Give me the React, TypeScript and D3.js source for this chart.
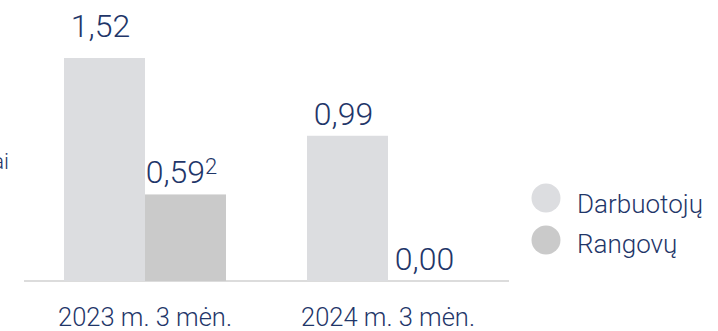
import React from "react";
import * as d3 from "d3";

const periods = ["2023 m. 3 mėn.", "2024 m. 3 mėn."];
const seriesNames = ["Darbuotojų", "Rangovų"];
const darbuotoju = [1.52, 0.99];
const rangovu = [0.59, 0.0];
const valueLabels = [["1,52", "0,99"], ["0,59", "0,00"]];
const labelSup = [["", ""], ["2", ""]];
const colors = ["#dcdde0", "#cacaca"];
const leftText = "ai";

const W = 718;
const H = 331;
const TEXT = "#1f3669";
const FONT = "Roboto, 'Noto Sans', sans-serif";

export default function App() {
  const values = [darbuotoju, rangovu];
  const maxV = d3.max(values.flat()) as number;
  const baseY = 281;
  const y = d3.scaleLinear().domain([0, maxV]).range([baseY, 58]);
  const x0 = d3.scaleBand<string>().domain(periods).range([64, 469]).paddingInner(1 / 3).paddingOuter(0);
  const x1 = d3.scaleBand<string>().domain(seriesNames).range([0, x0.bandwidth()]).padding(0);

  return (
    <svg width={W} height={H} style={{ position: "absolute", left: 0, top: 0, background: "#fff" }} fontFamily={FONT}>
      <text x={9} y={169} textAnchor="end" fontSize={22} fontWeight={300} fill={TEXT}>{leftText}</text>
      <line x1={24} x2={509} y1={baseY} y2={baseY} stroke="#dcdcdc" strokeWidth={2} />
      {periods.map((p, gi) => (
        <g key={p} transform={`translate(${x0(p)},0)`}>
          {seriesNames.map((s, si) => {
            const v = values[si][gi];
            const bx = x1(s) as number;
            const top = y(v);
            const ly = top - (v === maxV ? 21 : 11);
            return (
              <g key={s}>
                {v > 0 && (
                  <rect x={bx} y={top} width={x1.bandwidth()} height={baseY - top} fill={colors[si]} />
                )}
                <text x={bx + x1.bandwidth() / 2 - 4} y={ly} textAnchor="middle" fontSize={32} fontWeight={300} fill={TEXT}>
                  {valueLabels[si][gi]}
                  {labelSup[si][gi] && (
                    <tspan fontSize={22} dy={-9}>{labelSup[si][gi]}</tspan>
                  )}
                </text>
              </g>
            );
          })}
          <text x={x0.bandwidth() / 2} y={326} textAnchor="middle" fontSize={25.5} fontWeight={300} fill={TEXT}>{p}</text>
        </g>
      ))}
      {seriesNames.map((s, i) => (
        <g key={s} transform={`translate(546,${198 + i * 42})`}>
          <circle r={14.5} fill={colors[i]} />
          <text x={31} y={15 - i * 2} fontSize={26} fontWeight={300} fill={TEXT}>{s}</text>
        </g>
      ))}
    </svg>
  );
}
